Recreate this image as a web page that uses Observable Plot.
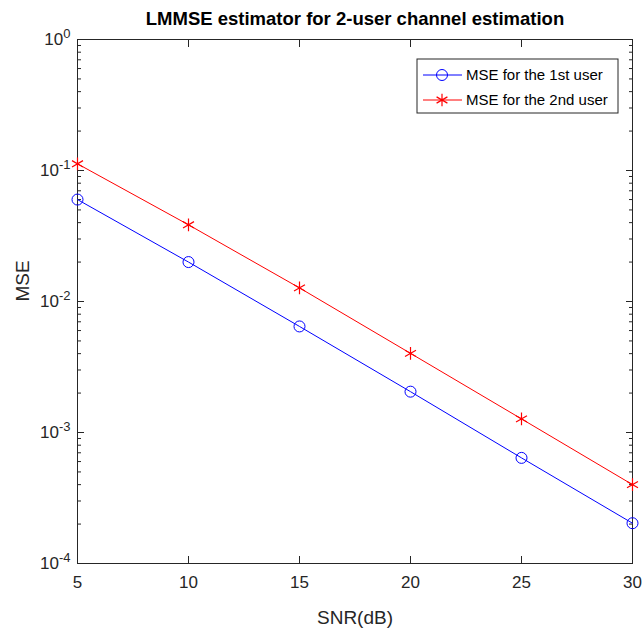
<!DOCTYPE html>
<html>
<head>
<meta charset="utf-8">
<script src="https://cdn.jsdelivr.net/npm/d3@7"></script>
<script src="https://cdn.jsdelivr.net/npm/@observablehq/plot@0.6"></script>
<style>
  html, body { margin: 0; padding: 0; background: #fff; }
  #chart { position: relative; width: 643px; height: 628px; }
  svg { font-family: "Liberation Sans", Arial, sans-serif; }
</style>
</head>
<body>
<div id="chart"></div>
<script>
const snr = [5, 10, 15, 20, 25, 30];
const mseUser1 = [0.060, 0.0200, 0.00645, 0.00205, 0.000640, 0.000203];
const mseUser2 = [0.1125, 0.0385, 0.0127, 0.00402, 0.00127, 0.000400];
const seriesNames = ["MSE for the 1st user", "MSE for the 2nd user"];
const seriesColors = ["#0000ff", "#ff0000"];
const xTicks = [5, 10, 15, 20, 25, 30];
const yTicks = [1e-4, 1e-3, 1e-2, 1e-1, 1];
const titleText = "LMMSE estimator for 2-user channel estimation";

const d1 = snr.map((s, i) => ({snr: s, mse: mseUser1[i]}));
const d2 = snr.map((s, i) => ({snr: s, mse: mseUser2[i]}));
const minorY = [];
for (let e = -4; e < 0; e++) for (let m = 2; m <= 9; m++) minorY.push(m * Math.pow(10, e));

const noLabel = () => "";
const plot = Plot.plot({
  width: 643,
  height: 628,
  marginLeft: 77,
  marginRight: 11,
  marginTop: 39,
  marginBottom: 65,
  style: {fontFamily: "'Liberation Sans', Arial, sans-serif", fontSize: "17px", color: "#262626", background: "#fff"},
  x: {domain: [5, 30]},
  y: {type: "log", domain: [1e-4, 1]},
  marks: [
    Plot.axisX({anchor: "bottom", ticks: xTicks, tickSize: -7, tickPadding: 19, tickFormat: d => String(d), fontSize: 17, label: null, stroke: "#262626", fill: "#262626"}),
    Plot.text(["SNR(dB)"], {frameAnchor: "bottom", lineAnchor: "middle", dy: 54, text: d => d, fontSize: 19, fill: "#262626"}),
    Plot.axisX({anchor: "top", ticks: xTicks, tickSize: -7, tickFormat: noLabel, label: null, stroke: "#262626"}),
    Plot.axisY({anchor: "left", ticks: yTicks, tickSize: -7, tickPadding: 14, tickFormat: d => "10|" + Math.round(Math.log10(d)), fontSize: 17, label: null, stroke: "#262626", fill: "#262626"}),
    Plot.text(["MSE"], {frameAnchor: "left", lineAnchor: "middle", dx: -55, rotate: -90, text: d => d, fontSize: 19, fill: "#262626"}),
    Plot.axisY({anchor: "right", ticks: yTicks, tickSize: -7, tickFormat: noLabel, label: null, stroke: "#262626"}),
    Plot.axisY({anchor: "left", ticks: minorY, tickSize: -4, tickFormat: noLabel, label: null, stroke: "#262626"}),
    Plot.axisY({anchor: "right", ticks: minorY, tickSize: -4, tickFormat: noLabel, label: null, stroke: "#262626"}),
    Plot.frame({stroke: "#262626", strokeWidth: 1}),
    Plot.line(d1, {x: "snr", y: "mse", stroke: seriesColors[0], strokeWidth: 1}),
    Plot.dot(d1, {x: "snr", y: "mse", stroke: seriesColors[0], r: 5.5, strokeWidth: 1}),
    Plot.line(d2, {x: "snr", y: "mse", stroke: seriesColors[1], strokeWidth: 1}),
    Plot.dot(d2, {x: "snr", y: "mse", stroke: seriesColors[1], symbol: "asterisk", r: 6, strokeWidth: 1.2}),
    Plot.text([titleText], {frameAnchor: "top", lineAnchor: "middle", dy: -20, text: d => d, fontSize: 18.5, fontWeight: "bold", fill: "#000", textAnchor: "middle"})
  ]
});
document.getElementById("chart").appendChild(plot);

const svg = d3.select(plot);
// remove empty tick label texts
svg.selectAll("text").each(function() {
  const t = d3.select(this);
  if (t.text() === "") t.remove();
});
// Superscript exponent formatting for y tick labels
svg.selectAll("text").each(function() {
  const t = d3.select(this);
  const s = t.text();
  if (!s.includes("|")) return;
  const [base, exp] = s.split("|");
  t.text(null);
  t.append("tspan").text(base);
  t.append("tspan").attr("dy", "-0.55em").attr("font-size", "13px").text(exp);
});

// Legend box (MATLAB style) inside plot area
const lg = svg.append("g").attr("font-family", "'Liberation Sans', Arial, sans-serif").attr("font-size", 15).attr("text-anchor", "start");
const lx = 417, ly = 59, lw = 201, lh = 54;
lg.append("rect").attr("x", lx).attr("y", ly).attr("width", lw).attr("height", lh).attr("fill", "#fff").attr("stroke", "#262626").attr("stroke-width", 1);
seriesNames.forEach((name, i) => {
  const cy = ly + 16 + i * 25;
  lg.append("line").attr("x1", lx + 6).attr("x2", lx + 45).attr("y1", cy).attr("y2", cy).attr("stroke", seriesColors[i]);
  if (i === 0) {
    lg.append("circle").attr("cx", lx + 25).attr("cy", cy).attr("r", 5.5).attr("fill", "none").attr("stroke", seriesColors[i]);
  } else {
    lg.append("path").attr("transform", `translate(${lx + 25},${cy})`).attr("d", d3.symbol(d3.symbolAsterisk, 110)()).attr("fill", "none").attr("stroke", seriesColors[i]).attr("stroke-width", 1.2);
  }
  lg.append("text").attr("x", lx + 49).attr("y", cy).attr("dy", "0.35em").attr("fill", "#000").attr("text-anchor", "start").text(name);
});
</script>
</body>
</html>
